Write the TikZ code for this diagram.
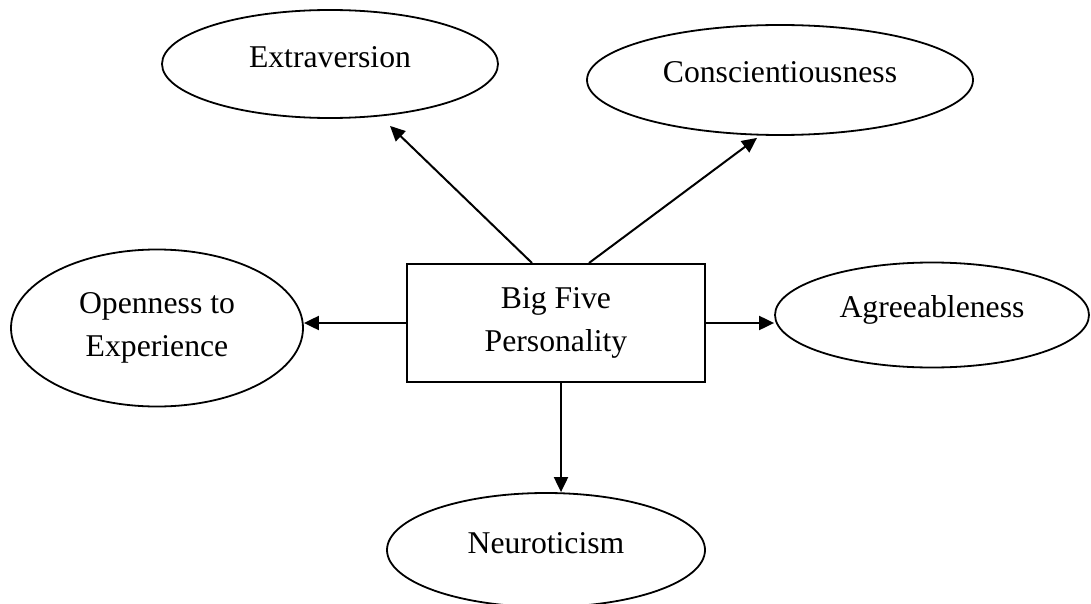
\documentclass[tikz,border=0pt]{standalone}
\usepackage{fontspec}
\setmainfont{Liberation Serif}
\usetikzlibrary{shapes.geometric,arrows.meta}
\begin{document}
\begin{tikzpicture}[x=1pt,y=-1pt,
  every node/.style={font=\fontsize{31.7}{43}\selectfont},
  oval/.style={draw, ellipse, line width=1.8pt, inner sep=0pt},
  box/.style={draw, rectangle, line width=2pt, inner sep=0pt, align=center},
  conn/.style={line width=2pt, -{Triangle[length=15pt,width=14pt]}}
]
\useasboundingbox (0,0) rectangle (1091,604);
\node[box, minimum width=298pt, minimum height=118pt] (big) at (556,323) {Big Five\\Personality};
\node[oval, minimum width=336pt, minimum height=108pt, label={[yshift=7pt]center:Extraversion}] (ext) at (330,64) {};
\node[oval, minimum width=386pt, minimum height=110pt, label={[yshift=8pt]center:Conscientiousness}] (con) at (780,80) {};
\node[oval, minimum width=292pt, minimum height=157pt, label={[align=center]center:Openness to\\Experience}] (ope) at (157,328) {};
\node[oval, minimum width=314pt, minimum height=105pt, label={[yshift=5pt]center:Agreeableness}] (agr) at (932,315) {};
\node[oval, minimum width=318pt, minimum height=114pt, label={[yshift=7pt]center:Neuroticism}] (neu) at (546,550) {};
\draw[conn] ([xshift=126pt]big.north west) -- ([xshift=60pt,yshift=-7pt]ext.south);
\draw[conn] ([xshift=183pt]big.north west) -- ([xshift=-23pt,yshift=-2pt]con.south);
\draw[conn] (big.west) -- (big.west -| ope.east);
\draw[conn] (big.east) -- (big.east -| agr.west);
\draw[conn] ([xshift=5pt]big.south) -- ([xshift=5pt]big.south |- neu.north);
\end{tikzpicture}
\end{document}
